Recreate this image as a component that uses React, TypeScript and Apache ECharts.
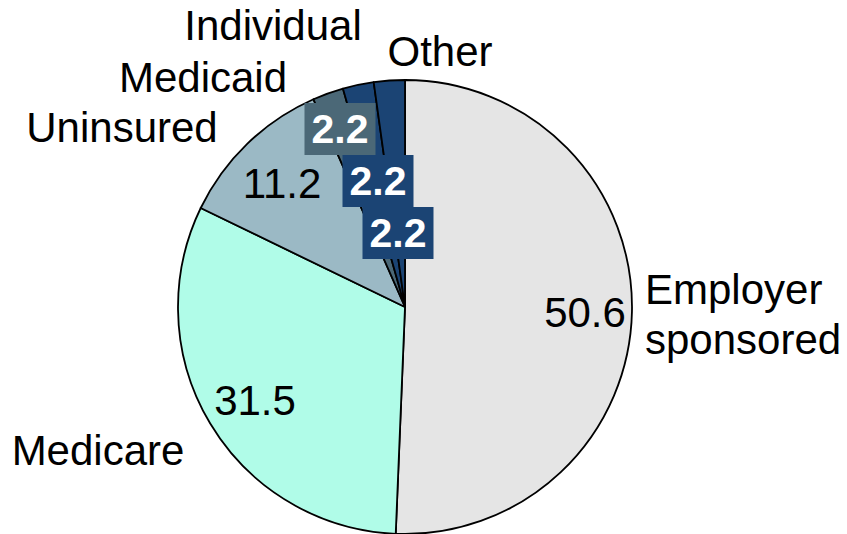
import React, { useEffect, useRef } from "react";
import * as echarts from "echarts";

const categories = ["Employer sponsored", "Medicare", "Uninsured", "Individual", "Medicaid", "Other"];
const values = [50.6, 31.5, 11.2, 2.2, 2.2, 2.2];

const sliceColors = ["#e5e5e5", "#b0fce8", "#9bb9c5", "#4b6877", "#1b4474", "#1b4474"];
const FONT = "'Liberation Sans', Arial, sans-serif";

// label layout positions (pixels)
const valuePos = [
  [585, 312],
  [255, 400],
  [282, 183],
  [340, 129],
  [378, 181],
  [398, 233],
];
const namePos: [number, number, string][] = [
  [645, 314, "left"],
  [98, 450, "center"],
  [122, 127, "center"],
  [273, 25, "center"],
  [203, 77, "center"],
  [440, 51, "center"],
];

export default function App() {
  const ref = useRef<HTMLDivElement>(null);
  useEffect(() => {
    if (!ref.current) return;
    const chart = echarts.init(ref.current, undefined, { renderer: "svg" });
    const boxed = (i: number) => i >= 3;
    const valueData = categories.map((name, i) => ({
      name,
      value: values[i],
      itemStyle: { color: sliceColors[i] },
      label: boxed(i)
        ? {
            color: "#ffffff",
            fontWeight: "bold",
            fontSize: 41,
            backgroundColor: sliceColors[i],
            padding: [3, 7],
            lineHeight: 46,
          }
        : { color: "#000000" },
    }));
    const nameData = categories.map((name, i) => ({ name, value: values[i] }));
    chart.setOption({
      animation: false,
      backgroundColor: "#ffffff",
      series: [
        {
          type: "pie",
          center: [405, 307],
          radius: 227,
          startAngle: 90,
          clockwise: true,
          minAngle: 0,
          avoidLabelOverlap: false,
          itemStyle: { borderColor: "#000000", borderWidth: 1.8 },
          emphasis: { disabled: true },
          label: {
            show: true,
            position: "inside",
            formatter: "{c}",
            fontFamily: FONT,
            fontSize: 42,
          },
          labelLine: { show: false },
          labelLayout: (p: any) => {
            const pos = valuePos[p.dataIndex];
            return { x: pos[0], y: pos[1], align: "center", verticalAlign: "middle" };
          },
          data: valueData,
        },
        {
          type: "pie",
          center: [405, 307],
          radius: 227,
          startAngle: 90,
          clockwise: true,
          silent: true,
          avoidLabelOverlap: false,
          itemStyle: { color: "rgba(0,0,0,0)", borderWidth: 0 },
          emphasis: { disabled: true },
          label: {
            show: true,
            position: "outside",
            formatter: (p: any) => (p.name === "Employer sponsored" ? "Employer\nsponsored" : p.name),
            fontFamily: FONT,
            fontSize: 42,
            lineHeight: 50,
            color: "#000000",
          },
          labelLine: { show: false },
          labelLayout: (p: any) => {
            const pos = namePos[p.dataIndex];
            return { x: pos[0], y: pos[1], align: pos[2], verticalAlign: "middle" };
          },
          data: nameData,
        },
      ],
    });
    return () => chart.dispose();
  }, []);
  return (
    <div
      ref={ref}
      style={{ position: "fixed", left: 0, top: 0, width: 847, height: 534, background: "#fff" }}
    />
  );
}
